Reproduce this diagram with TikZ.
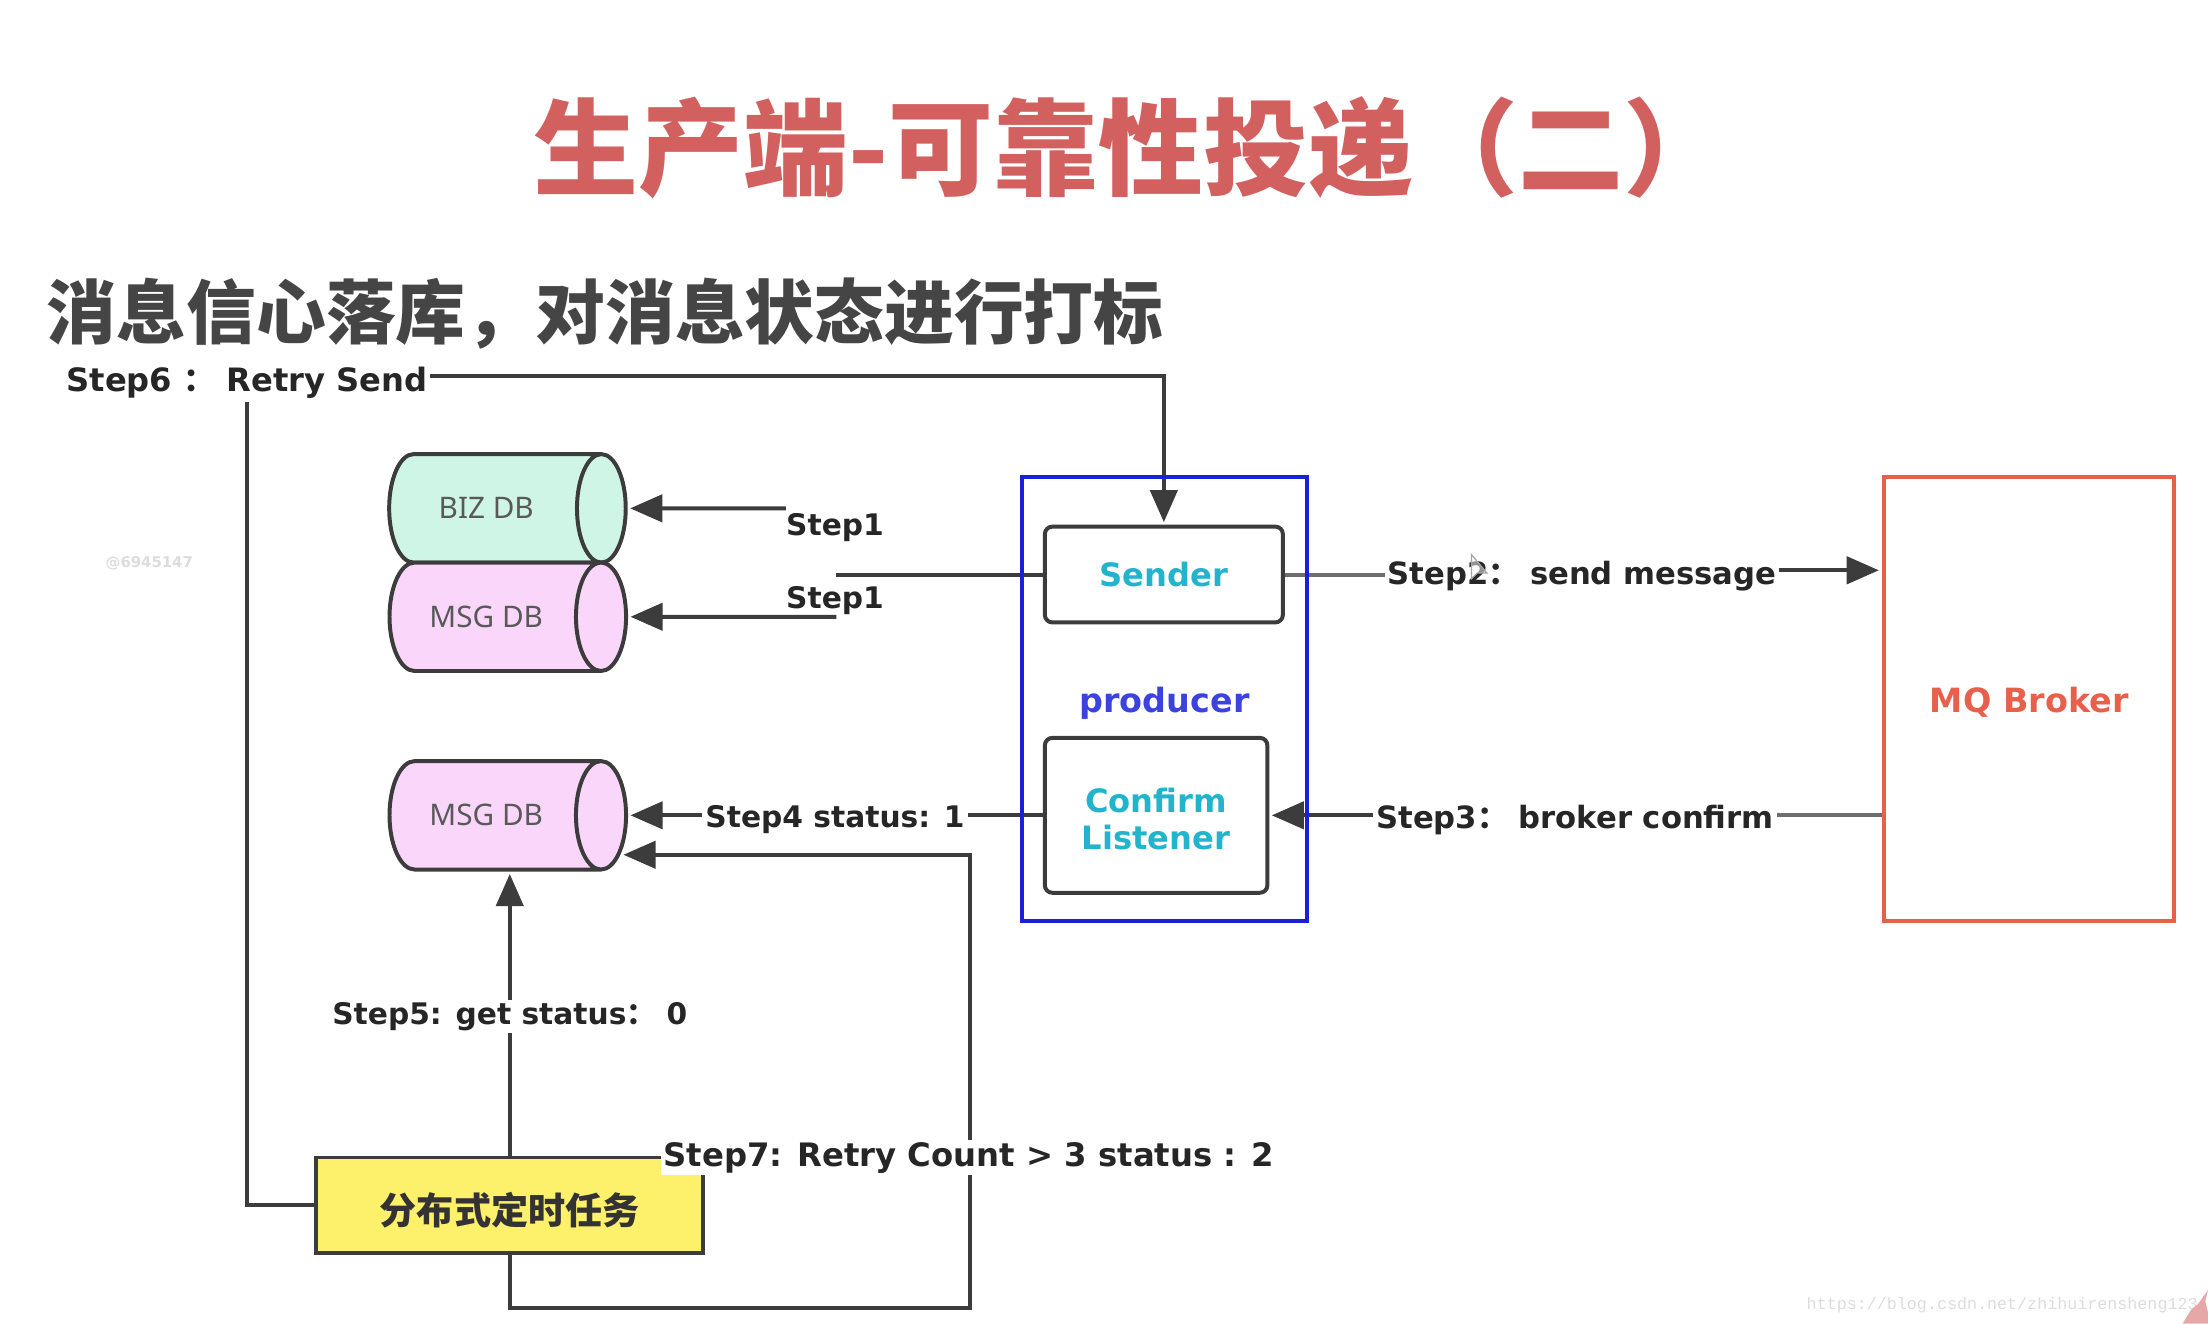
\documentclass[tikz,border=0pt]{standalone}
\usepackage{fontspec}
\setmainfont{DejaVu Sans}
\newfontfamily\cjkfont{Noto Sans CJK SC}
\newfontfamily\dbfont{Noto Sans}
\newfontfamily\urlfont{Liberation Mono}
\newcommand{\fwcolon}{{\cjkfont\bfseries ：}}
\usepackage{tikz}
\usetikzlibrary{arrows, arrows.meta, shapes.geometric, backgrounds}
\definecolor{linegray}{HTML}{3C3C3C}
\definecolor{titlered}{HTML}{D2605E}
\definecolor{subgray}{HTML}{454545}
\definecolor{bizgreen}{HTML}{CFF5E7}
\definecolor{msgpink}{HTML}{FAD7FA}
\definecolor{boxblue}{HTML}{1A20D8}
\definecolor{brokerred}{HTML}{E8604C}
\definecolor{listcyan}{HTML}{22B4CC}
\definecolor{taskyellow}{HTML}{FDF06A}
\definecolor{markgray}{HTML}{DCDCDC}
\tikzset{dbvertex/.style = {shape = cylinder, draw = linegray, line width = 1.6pt, cylinder uses custom fill, aspect = 2.3, minimum width = 15.4mm, minimum height = 33.6mm, inner sep = 0pt, text = black!65, font = \dbfont\fontsize{12}{14}\selectfont, execute at begin node = \hspace*{-6.5pt}}}
\tikzset{inner box/.style = {shape = rectangle, rounded corners = 3pt, draw = linegray, line width = 1.6pt, align = center, text = listcyan, font = \bfseries\fontsize{13}{15}\selectfont}}
\tikzset{outer box/.style = {shape = rectangle, line width = 1.7pt, font = \bfseries\fontsize{13.5}{16}\selectfont}}
\tikzset{steplabel/.style = {fill = white, inner sep = 1pt, text = black!85, font = \bfseries\fontsize{12.4}{14}\selectfont}}
\tikzset{edge/.style = {-, draw = linegray, line width = 1.6pt}}
\tikzset{paleedge/.style = {edge, draw = linegray!75!white}}
\tikzset{arrow/.style = {edge, -{Triangle[length = 13pt, width = 11pt]}, shorten > = 1pt}}

\begin{document}
\begin{tikzpicture}[x = 0.2mm, y = -0.2mm]
				\useasboundingbox (0, 0) rectangle (1568, 940);

				\node[text = titlered, font = \cjkfont\bfseries\fontsize{42.4}{50}\selectfont] (title) at (803, 105) {生产端-可靠性投递（二）};
				\node[anchor = west, inner sep = 0pt, text = subgray, font = \cjkfont\bfseries\fontsize{28.2}{34}\selectfont] (subtitle) at (33, 223) {消息信心落库，对消息状态进行打标};

				\node[dbvertex, cylinder body fill = bizgreen, cylinder end fill = bizgreen] (biz) at (351, 361) {BIZ DB};
				\node[dbvertex, cylinder body fill = msgpink, cylinder end fill = msgpink] (msgup) at (351, 438) {MSG DB};
				\node[dbvertex, cylinder body fill = msgpink, cylinder end fill = msgpink] (msgdown) at (351, 579) {MSG DB};

				\node[outer box, draw = boxblue, text = boxblue!85!white, minimum width = 40.4mm, minimum height = 63mm] (producer) at (827, 496.5) {\rule{0pt}{13.5pt}producer};
				\node[inner box, minimum width = 33.8mm, minimum height = 13.6mm] (sender) at (826.5, 408) {Sender};
				\node[inner box, minimum width = 31.6mm, minimum height = 22mm] (confirm) at (821, 579) {\rule{0pt}{12.5pt}Confirm\\Listener};
				\node[outer box, draw = brokerred, text = brokerred, minimum width = 41.2mm, minimum height = 63mm] (broker) at (1441, 496.5) {\rule{0pt}{13pt}MQ Broker};

				\node[shape = rectangle, draw = linegray, line width = 1.6pt, fill = taskyellow, text = black!80, minimum width = 55mm, minimum height = 13.6mm, font = \cjkfont\bfseries\fontsize{15}{18}\selectfont] (timer) at (362, 856) {\rule{0pt}{17pt}分布式定时任务};

				\node[steplabel, font = \bfseries\fontsize{12}{14}\selectfont] (stepa) at (593, 374.5) {Step1};
				\node[steplabel, fill = none, font = \bfseries\fontsize{12}{14}\selectfont] (stepb) at (593, 426.5) {Step1};
				\node[steplabel] (steptwo) at (1123.5, 409) {Step2\fwcolon~send message};
				\node[steplabel] (stepthree) at (1118.5, 582) {Step3\fwcolon~broker confirm};
				\node[steplabel, font = \bfseries\fontsize{12}{14}\selectfont] (stepfour) at (593, 582) {Step4 status: 1};
				\node[steplabel, font = \bfseries\fontsize{12}{14}\selectfont] (stepfive) at (362, 722) {Step5: get status\fwcolon~0};
				\node[steplabel, font = \bfseries\fontsize{13}{15}\selectfont] (stepsix) at (175.5, 272) {Step6 \fwcolon~Retry Send};
				\node[steplabel, font = \bfseries\fontsize{13.05}{15}\selectfont] (stepseven) at (688, 822) {Step7: Retry Count > 3 status : 2};

				\node[text = markgray, font = \bfseries\fontsize{6}{7}\selectfont] (markid) at (106, 400) {@6945147};
				\node[text = markgray, font = \urlfont\fontsize{6.75}{8}\selectfont, anchor = east, inner sep = 0pt] (markurl) at (1561, 927) {https://blog.csdn.net/zhihuirensheng123};

				\coordinate (sixout) at (304, 267);
				\coordinate (bizin) at (558, 361);
				\coordinate (wireup) at (594, 408);
				\coordinate (wiredown) at (594, 438);
				\coordinate (twoout) at (1260, 405);
				\coordinate (brokerin) at (1336, 405);
				\coordinate (retrycorner) at (689, 929);
				\coordinate (retryin) at (441, 607);

				\begin{scope}[on background layer]
					\draw[edge] (timer.west) -| (stepsix.south);
					\draw[arrow] (sixout) -| (sender.north);
					\draw[arrow] (bizin) -- (biz.east);
					\draw[edge] (sender.west) -- (wireup);
					\draw[arrow] (wiredown) -- (msgup.east);
					\draw[paleedge] (sender.east) -- (sender.east -| steptwo.west);
					\draw[arrow] (twoout) -- (brokerin);
					\draw[paleedge] (broker.west |- confirm.east) -- (stepthree.east |- confirm.east);
					\draw[arrow] (stepthree.west |- confirm.east) -- (confirm.east);
					\draw[edge] (confirm.west) -- (stepfour.east |- confirm.west);
					\draw[arrow] (stepfour.west |- msgdown.east) -- (msgdown.east);
					\draw[arrow] (timer.north) -- (timer.north |- msgdown.south);
					\draw[arrow] (timer.south) |- (retrycorner) -- (retrycorner |- retryin) -- (retryin);
				\end{scope}

				% mouse pointer and corner mark
				\draw[gray!70, fill = white, fill opacity = 0.5, line width = 0.5pt] (1045, 394) -- (1045, 411) -- (1049, 407) -- (1056, 407) -- cycle;
				\fill[titlered!55!white] (1568, 916) -- (1566, 924) -- (1568, 932) -- (1568, 940) -- (1550, 940) -- (1556, 930) -- (1561, 926) -- cycle;
			\end{tikzpicture}
\end{document}
